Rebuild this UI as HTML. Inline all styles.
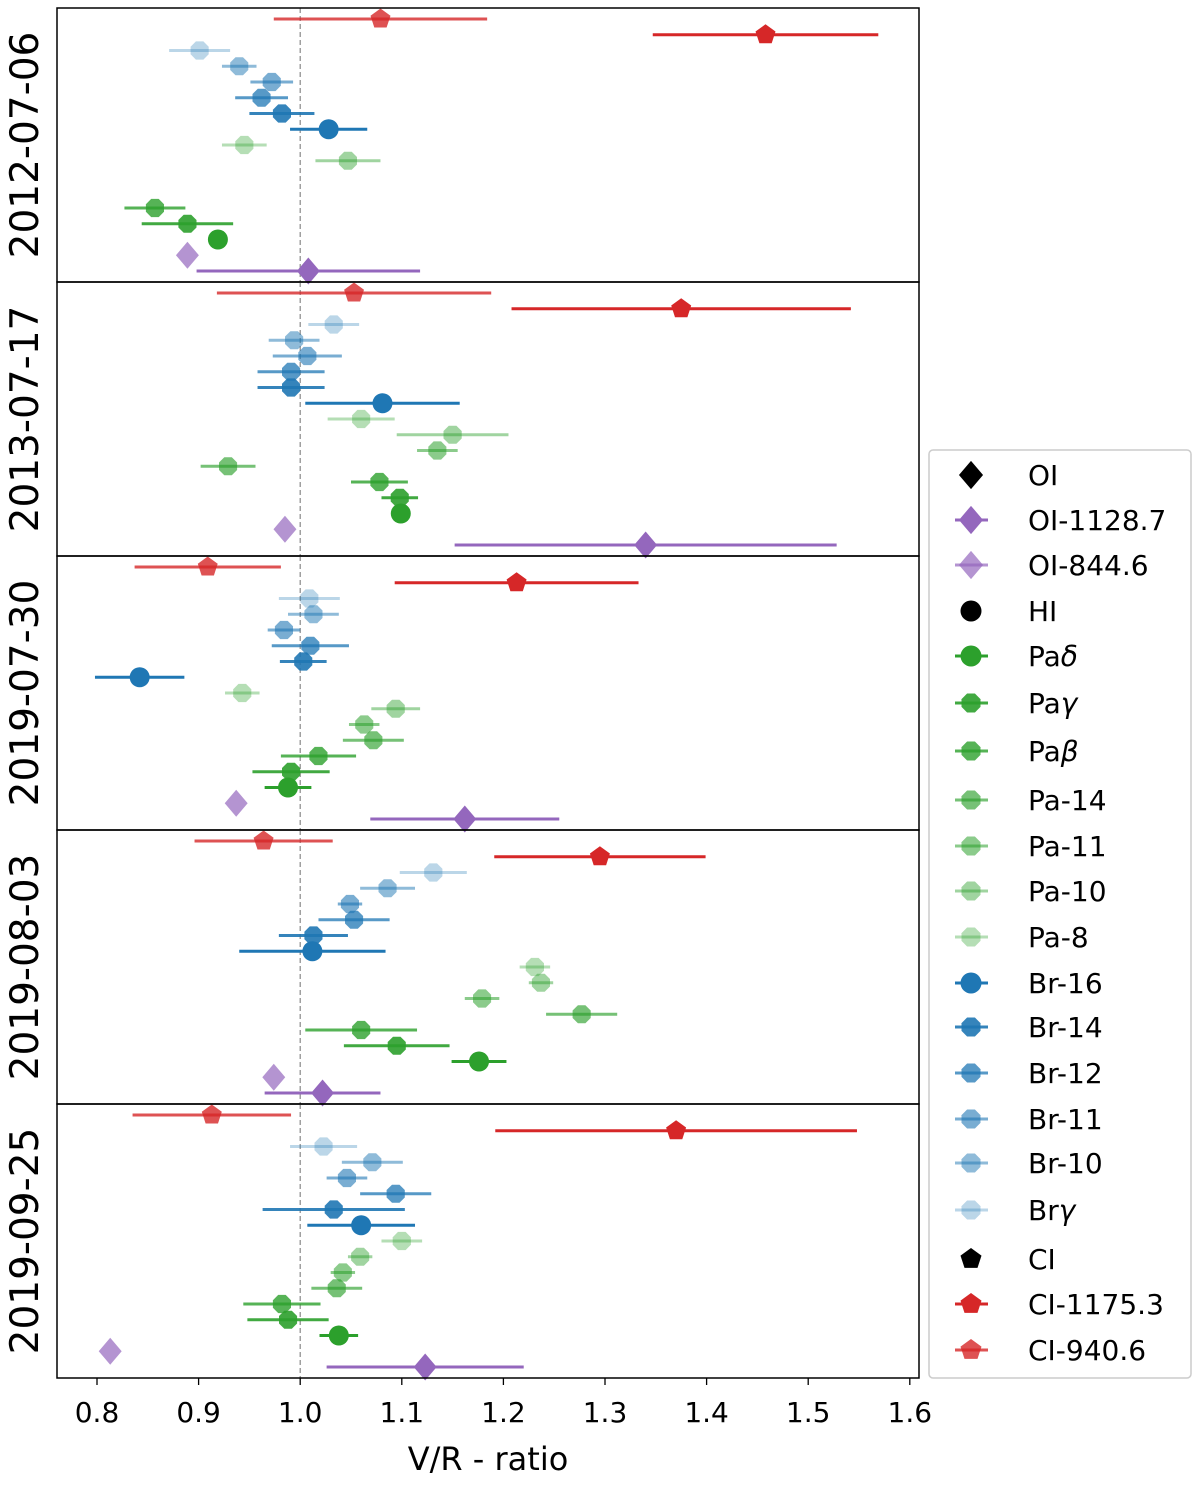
<!DOCTYPE html>
<html><head><meta charset="utf-8"><style>
body{margin:0;background:#fff;}
svg text{font-family:"DejaVu Sans","Liberation Sans",sans-serif;}
</style></head><body>
<svg id="chart" width="1200" height="1481" xmlns="http://www.w3.org/2000/svg"></svg>
<script>
const dates = ["2012-07-06","2013-07-17","2019-07-30","2019-08-03","2019-09-25"];
const lines = ["CI-940.6","CI-1175.3","Brγ","Br-10","Br-11","Br-12","Br-14","Br-16","Pa-8","Pa-10","Pa-11","Pa-14","Paβ","Paγ","Paδ","OI-844.6","OI-1128.7"];
const vals2012 = [1.079,1.458,0.901,0.940,0.972,0.962,0.982,1.028,0.945,1.047,null,null,0.857,0.889,0.919,0.889,1.008];
const errs2012 = [0.105,0.111,0.030,0.017,0.021,0.026,0.032,0.038,0.022,0.032,0,0,0.030,0.045,0,0,0.110];
const vals2013 = [1.053,1.375,1.033,0.994,1.007,0.991,0.991,1.081,1.060,1.150,1.135,0.929,1.078,1.098,1.099,0.985,1.340];
const errs2013 = [0.135,0.167,0.025,0.025,0.034,0.033,0.033,0.076,0.033,0.055,0.020,0.027,0.028,0.018,0,0,0.188];
const vals2019a = [0.909,1.213,1.009,1.013,0.984,1.010,1.003,0.842,0.943,1.094,1.063,1.072,1.018,0.991,0.988,0.937,1.162];
const errs2019a = [0.072,0.120,0.030,0.025,0.016,0.038,0.023,0.044,0.017,0.024,0.015,0.030,0.037,0.038,0.023,0,0.093];
const vals2019b = [0.964,1.295,1.131,1.086,1.049,1.053,1.013,1.012,1.231,1.237,1.179,1.277,1.060,1.095,1.176,0.974,1.022];
const errs2019b = [0.068,0.104,0.033,0.027,0.012,0.035,0.034,0.072,0.015,0.012,0.017,0.035,0.055,0.052,0.027,0,0.057];
const vals2019c = [0.913,1.370,1.023,1.071,1.046,1.094,1.033,1.060,1.100,1.059,1.042,1.036,0.982,0.988,1.038,0.813,1.123];
const errs2019c = [0.078,0.178,0.033,0.030,0.020,0.035,0.070,0.053,0.020,0.012,0.012,0.025,0.038,0.040,0.019,0,0.097];
const xTicks = [0.8,0.9,1.0,1.1,1.2,1.3,1.4,1.5,1.6];
const legendLabels = ["OI","OI-1128.7","OI-844.6","HI","Paδ","Paγ","Paβ","Pa-14","Pa-11","Pa-10","Pa-8","Br-16","Br-14","Br-12","Br-11","Br-10","Brγ","CI","CI-1175.3","CI-940.6"];

const allVals=[vals2012,vals2013,vals2019a,vals2019b,vals2019c];
const allErrs=[errs2012,errs2013,errs2019a,errs2019b,errs2019c];
const style={
 "CI-940.6":["#d62728",0.8,"p"],"CI-1175.3":["#d62728",1,"p"],
 "Brγ":["#1f77b4",0.3,"h"],"Br-10":["#1f77b4",0.5,"h"],"Br-11":["#1f77b4",0.6,"h"],"Br-12":["#1f77b4",0.75,"h"],"Br-14":["#1f77b4",0.9,"h"],"Br-16":["#1f77b4",1,"o"],
 "Pa-8":["#2ca02c",0.35,"h"],"Pa-10":["#2ca02c",0.45,"h"],"Pa-11":["#2ca02c",0.55,"h"],"Pa-14":["#2ca02c",0.65,"h"],"Paβ":["#2ca02c",0.8,"h"],"Paγ":["#2ca02c",0.9,"h"],"Paδ":["#2ca02c",1,"o"],
 "OI-844.6":["#9467bd",0.7,"d"],"OI-1128.7":["#9467bd",1,"d"],
 "OI":["#000",1,"d"],"HI":["#000",1,"o"],"CI":["#000",1,"p"]};
const svg=document.getElementById('chart');
const NS="http://www.w3.org/2000/svg";
function mk(t,a,p){const e=document.createElementNS(NS,t);for(const k in a)e.setAttribute(k,a[k]);(p||svg).appendChild(e);return e;}
const L=57,R=919,T=8,B=1378,pH=(B-T)/5;
const x=v=>97+(v-0.8)*1016;
function marker(g,shape,cx,cy,col,op,s){
 let e;
 if(shape==="o"){e=mk('circle',{cx,cy,r:s},g);}
 else if(shape==="d"){const r=s*1.35;e=mk('polygon',{points:`${cx},${cy-r} ${cx+r*0.85},${cy} ${cx},${cy+r} ${cx-r*0.85},${cy}`},g);}
 else {const n=shape==="p"?5:8;const r=shape==="p"?s*1.05:s*0.98;let pts=[];for(let i=0;i<n;i++){const a=-Math.PI/2+i*2*Math.PI/n+(n===8?Math.PI/8:0);pts.push((cx+r*Math.cos(a)).toFixed(1)+","+(cy+r*Math.sin(a)).toFixed(1));}e=mk('polygon',{points:pts.join(" ")},g);}
 e.setAttribute('fill',col);e.setAttribute('fill-opacity',op);
 return e;
}
for(let p=0;p<5;p++){
 const top=T+p*pH;
 const g=mk('g',{});
 
 
 const ref=mk('line',{x1:x(1),x2:x(1),y1:top,y2:top+pH,stroke:'#888','stroke-width':1.2,'stroke-dasharray':'5,3'},g);
 
 
 const step=(pH-22)/16;
 for(let i=0;i<lines.length;i++){
  const v=allVals[p][i];if(v==null)continue;
  const er=allErrs[p][i];const [col,op,sh]=style[lines[i]];
  const cy=top+11+step*i;
  if(er>0){const eb=mk('line',{x1:x(v-er),x2:x(v+er),y1:cy,y2:cy,stroke:col,'stroke-opacity':op,'stroke-width':3},g);
   
   }
  const m=marker(g,sh,x(v),cy,col,op,10);
  
  
 }
 const fr=mk('rect',{x:L,y:top,width:R-L,height:pH,fill:'none',stroke:'#000','stroke-width':1.5},g);
 
 
 const cyl=top+pH/2;
 const yl=mk('text',{x:0,y:0,transform:`translate(38,${cyl}) rotate(-90)`,'text-anchor':'middle','font-size':39},g);
 yl.textContent=dates[p];
 
 
}
for(const t of xTicks){
 const tl=mk('line',{x1:x(t),x2:x(t),y1:B,y2:B+7,stroke:'#000','stroke-width':1.3});
 
 
 const tx=mk('text',{x:x(t),y:B+44,'text-anchor':'middle','font-size':28});
 tx.textContent=t.toFixed(1);
 
 
}
const xt=mk('text',{x:488,y:1470,'text-anchor':'middle','font-size':32});
xt.textContent="V/R - ratio";


const lg=mk('g',{});


mk('rect',{x:929,y:450,width:262,height:928,rx:4,fill:'#fff',stroke:'#ccc','stroke-width':1.5},lg);
const ys=[475,520,565,611,656,703,751,800,846,891,937,983,1027,1073,1119,1163,1210,1259,1304,1350];
legendLabels.forEach((lab,i)=>{
 const [col,op,sh]=style[lab];const y=ys[i];
 const e=mk('g',{},lg);
 
 
 if(!["OI","HI","CI"].includes(lab))mk('line',{x1:955,x2:988,y1:y,y2:y,stroke:col,'stroke-opacity':op,'stroke-width':3},e);
 marker(e,sh,971,y,col,op,10.5);
 const t=mk('text',{x:1028,y:y+10,'font-size':28},e);
 const m=lab.match(/^(.*?)([βγδ])$/);
 if(m){t.appendChild(document.createTextNode(m[1]));const ts=mk('tspan',{'font-style':'italic'},t);ts.textContent=m[2];}
 else t.textContent=lab;
});
</script>
</body></html>
